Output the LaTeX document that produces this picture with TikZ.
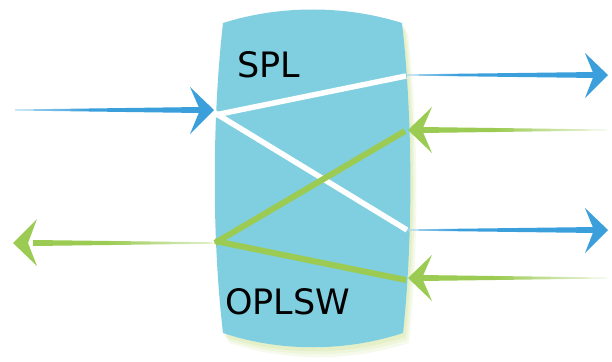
\documentclass[tikz,border=0pt]{standalone}
\usepackage{fontspec}
\setmainfont{DejaVu Sans}
\definecolor{boxblue}{HTML}{80CFE0}
\definecolor{sblue}{HTML}{3A9FDB}
\definecolor{sgreen}{HTML}{9BCB52}
\definecolor{halo}{HTML}{DDEBB8}
% shaft shadings: the useful band of a TikZ shading is 25bp--75bp
\pgfdeclarehorizontalshading{bluein}{100bp}{color(0bp)=(white); color(25bp)=(white!60!sblue); color(45bp)=(sblue); color(100bp)=(sblue)}
\pgfdeclarehorizontalshading{blueout}{100bp}{color(0bp)=(white!60!sblue); color(25bp)=(white!60!sblue); color(38bp)=(sblue); color(100bp)=(sblue)}
\pgfdeclarehorizontalshading{greenout}{100bp}{color(0bp)=(sgreen); color(45bp)=(sgreen); color(75bp)=(white!70!sgreen); color(100bp)=(white!70!sgreen)}
\pgfdeclarehorizontalshading{greenin}{100bp}{color(0bp)=(sgreen); color(45bp)=(sgreen); color(75bp)=(white!85!sgreen); color(100bp)=(white!85!sgreen)}
\begin{document}
\begin{tikzpicture}[x=1pt,y=-1pt,
  lbl/.style={font=\fontsize{35}{38}\selectfont, inner sep=0pt, anchor=base west},
  whiteline/.style={draw=white, line width=5.5pt, line cap=butt},
  greenline/.style={draw=sgreen, line width=6pt, line cap=butt}]
\useasboundingbox (0,0) rectangle (612,361);

% soft halo behind the splitter body
\foreach \d/\o in {10/0.25,7/0.35,4/0.5}{
  \fill[halo, opacity=\o, shift={(\d*0.6,\d)}]
    (223,23) .. controls (280,5) and (345,5) .. (402,23)
    .. controls (413,120) and (413,240) .. (403,333)
    .. controls (345,352) and (280,352) .. (223,333)
    .. controls (212,240) and (212,120) .. (223,23) -- cycle;
}
% splitter body
\fill[boxblue]
  (223,23) .. controls (280,5) and (345,5) .. (402,23)
  .. controls (413,120) and (413,240) .. (403,333)
  .. controls (345,352) and (280,352) .. (223,333)
  .. controls (212,240) and (212,120) .. (223,23) -- cycle;

% ports
\coordinate (inL)  at (215,116);
\coordinate (outL) at (215,243);
\coordinate (r1) at (406,76);
\coordinate (r2) at (405,131);
\coordinate (r3) at (407,230);
\coordinate (r4) at (406,280);

% internal paths
\draw[whiteline] ([yshift=1]inL) -- (r1);
\draw[whiteline] ([yshift=3]inL) -- (r3);
\draw[greenline] (outL) -- (r2);
\draw[greenline] ([yshift=2]outL) -- (r4);

% labels
\node[lbl] (spl) at (237,77) {SPL};
\node[lbl] (oplsw) at (225,314) {OPLSW};

% incoming blue arrow on the left
\shade[shading=bluein] (15,109.5) -- (200,107) -- (200,113) -- (15,110.5) -- cycle;
\fill[sblue] (214,110) -- (190,87) -- (200,110) -- (190,134) -- cycle;

% outgoing green arrow on the left
\shade[shading=greenout] (33,240) -- (213,242.3) -- (213,243.7) -- (33,246) -- cycle;
\fill[sgreen] (13,243) -- (37,219) -- (28,243) -- (37,266) -- cycle;

% outgoing blue arrows on the right
\foreach \y in {75,230}{
  \shade[shading=blueout] (407,\y-0.6) -- (596,\y-3) -- (596,\y+3) -- (407,\y+0.6) -- cycle;
  \fill[sblue] (608,\y) -- (585,\y-22) -- (594,\y) -- (585,\y+23) -- cycle;
}
% incoming green arrows on the right
\foreach \y in {130,278}{
  \shade[shading=greenin] (420,\y-3) -- (607,\y-0.5) -- (607,\y+0.5) -- (420,\y+3) -- cycle;
  \fill[sgreen] (408,\y) -- (432,\y-23) -- (422,\y) -- (432,\y+23) -- cycle;
}
\end{tikzpicture}
\end{document}
